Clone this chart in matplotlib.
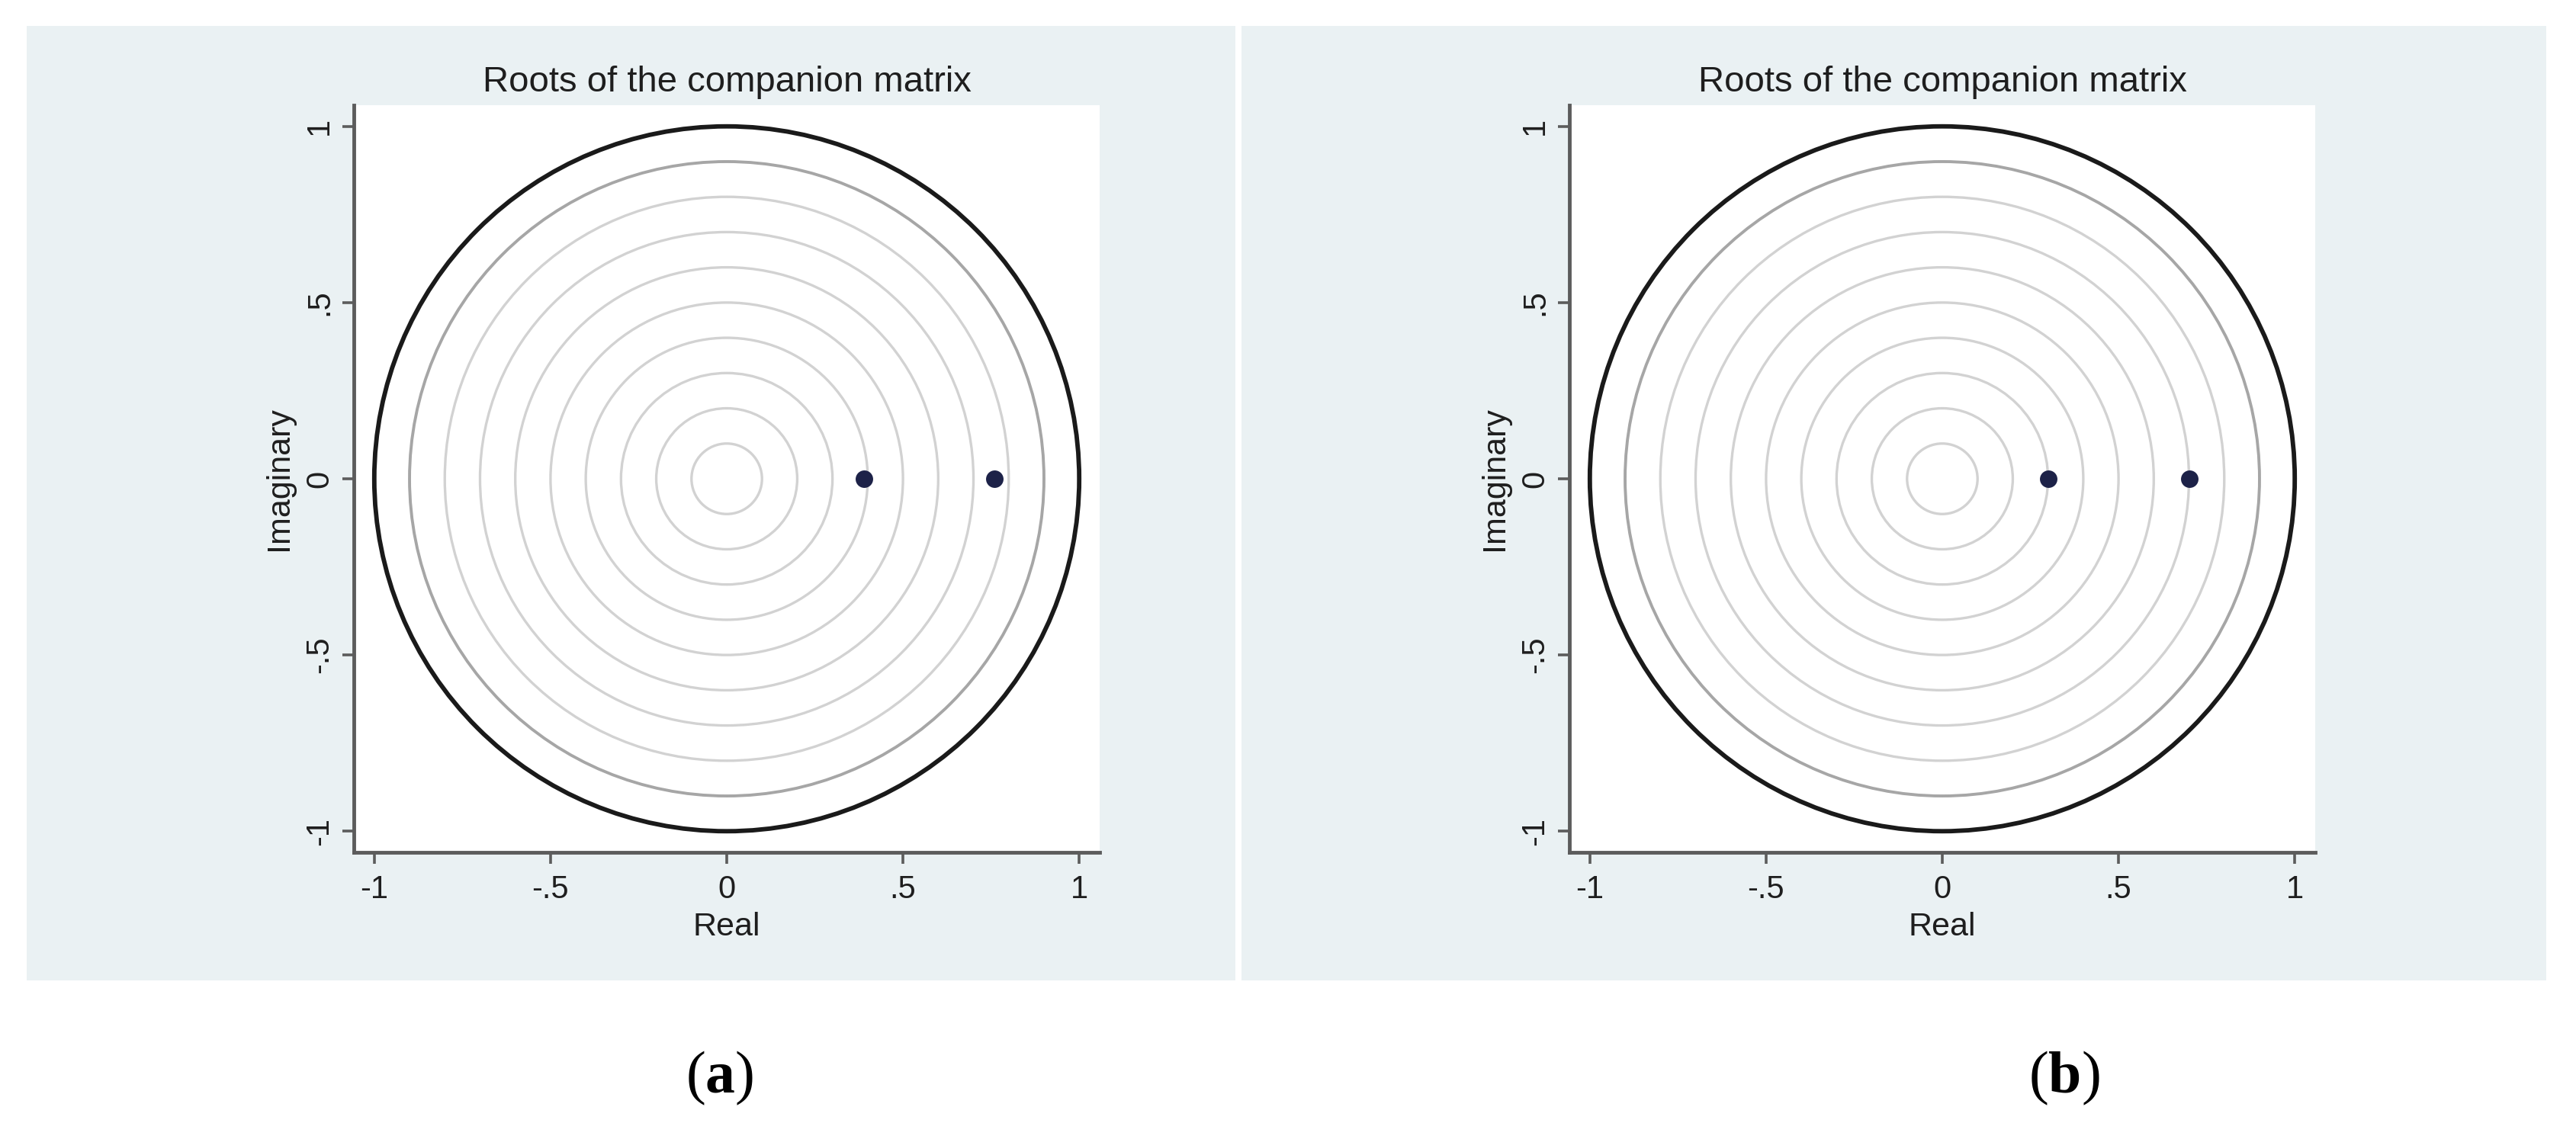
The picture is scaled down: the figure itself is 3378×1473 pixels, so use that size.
import numpy as np
import matplotlib
matplotlib.use('Agg')
import matplotlib.pyplot as plt
from matplotlib.patches import Rectangle, Circle

# ---------------- data ----------------
panel_title = "Roots of the companion matrix"
captions = ["a", "b"]
roots_real_a = [0.39, 0.76]
roots_imag_a = [0.0, 0.0]
roots_real_b = [0.30, 0.70]
roots_imag_b = [0.0, 0.0]
grid_radii = [0.1, 0.2, 0.3, 0.4, 0.5, 0.6, 0.7, 0.8]
outer_grid_radii = [0.9]
unit_radii = [1.0]
tick_values = [-1, -0.5, 0, 0.5, 1]
x_tick_labels = ["-1", "-.5", "0", ".5", "1"]
y_tick_labels = ["-1", "-.5", "0", ".5", "1"]
x_label = "Real"
y_label = "Imaginary"

# ---------------- style ----------------
plt.rcParams['font.family'] = ['Liberation Sans', 'DejaVu Sans']
plt.rcParams['mathtext.fontset'] = 'custom'
plt.rcParams['mathtext.rm'] = 'Liberation Serif'
plt.rcParams['mathtext.bf'] = 'Liberation Serif:bold'

W, H = 3378, 1473
fig = plt.figure(figsize=(W / 100, H / 100), dpi=100)
fig.patch.set_facecolor('white')

BG = '#EAF1F3'
AXC = '#5c5c5c'
TXT = '#1e1e1e'
DOT = '#1d2248'

# panel backgrounds (behind the axes)
for x0, x1 in [(35, 1620), (1628, 3339)]:
    fig.patches.append(Rectangle((x0 / W, 1 - 1286 / H), (x1 - x0) / W, (1286 - 34) / H,
                                 transform=fig.transFigure, facecolor=BG,
                                 edgecolor='none', zorder=-10))

panels = [
    (464, roots_real_a, roots_imag_a, captions[0], 944),
    (2058, roots_real_b, roots_imag_b, captions[1], 2707),
]

for left_px, rx, ry, cap, cap_x in panels:
    ax = fig.add_axes([left_px / W, 1 - 1118 / H, 978 / W, 980 / H])
    ax.set_zorder(1)
    ax.set_facecolor('white')
    ax.set_xlim(-1.058, 1.058)
    ax.set_ylim(-1.06, 1.06)

    for r in grid_radii:
        ax.add_patch(Circle((0, 0), r, fill=False, edgecolor='#d2d2d2', linewidth=2.4, zorder=2))
    for r in outer_grid_radii:
        ax.add_patch(Circle((0, 0), r, fill=False, edgecolor='#a6a6a6', linewidth=2.8, zorder=2))
    for r in unit_radii:
        ax.add_patch(Circle((0, 0), r, fill=False, edgecolor='#1a1a1a', linewidth=4.2, zorder=3))

    ax.plot(rx, ry, linestyle='none', marker='o', markersize=16.5, color=DOT,
            markeredgewidth=0, zorder=5)

    for s in ['top', 'right']:
        ax.spines[s].set_visible(False)
    for s in ['left', 'bottom']:
        ax.spines[s].set_color(AXC)
        ax.spines[s].set_linewidth(3.5)

    ax.set_xticks(tick_values)
    ax.set_xticklabels(x_tick_labels)
    ax.set_yticks(tick_values)
    ax.set_yticklabels(y_tick_labels, rotation=90, va='center')
    ax.tick_params(axis='both', direction='out', length=11, width=2.6, color=AXC,
                   labelsize=30, labelcolor=TXT)
    ax.tick_params(axis='x', pad=10)
    ax.tick_params(axis='y', pad=7)

    ax.text(0.5, 1.0184, panel_title, transform=ax.transAxes, ha='center',
            va='baseline', fontsize=34, color=TXT)
    ax.text(0.5, -0.111, x_label, transform=ax.transAxes, ha='center',
            va='baseline', fontsize=31, color=TXT)
    ax.text(-0.100, 0.5, y_label, transform=ax.transAxes, ha='center',
            va='center', rotation=90, fontsize=31, color=TXT)

    fig.text(cap_x / W, 1 - 1433 / H, r'($\mathbf{' + cap + r'}$)', ha='center',
             va='baseline', fontsize=56, family='Liberation Serif', color='black')

fig.savefig('out.png', dpi=100, facecolor='white')
